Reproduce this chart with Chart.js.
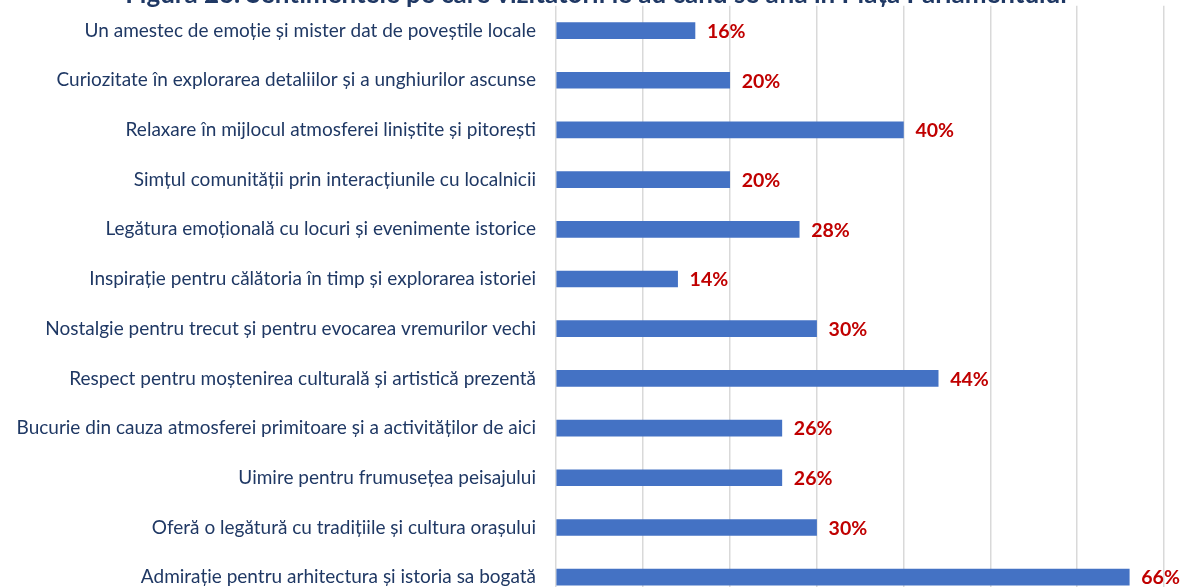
<!DOCTYPE html>
<html>
<head>
<meta charset="utf-8">
<script src="https://cdn.jsdelivr.net/npm/chart.js"></script>
<style>
  html, body { margin: 0; padding: 0; overflow: hidden; background: #fff; }
  #chartDiv { position: absolute; left: 0; top: -20px; width: 1182px; height: 623px; }
</style>
</head>
<body>
<div id="chartDiv"><canvas id="myChart" width="1182" height="622"></canvas></div>
<script>
let titleText = "Figura 26. Sentimentele pe care vizitatorii le au când se află în Piața Parlamentului";

let categories = [
    "Un amestec de emoție și mister dat de poveștile locale",
    "Curiozitate în explorarea detaliilor și a unghiurilor ascunse",
    "Relaxare în mijlocul atmosferei liniștite și pitorești",
    "Simțul comunității prin interacțiunile cu localnicii",
    "Legătura emoțională cu locuri și evenimente istorice",
    "Inspirație pentru călătoria în timp și explorarea istoriei",
    "Nostalgie pentru trecut și pentru evocarea vremurilor vechi",
    "Respect pentru moștenirea culturală și artistică prezentă",
    "Bucurie din cauza atmosferei primitoare și a activităților de aici",
    "Uimire pentru frumusețea peisajului",
    "Oferă o legătură cu tradițiile și cultura orașului",
    "Admirație pentru arhitectura și istoria sa bogată"
];
let values = [16, 20, 40, 20, 28, 14, 30, 44, 26, 26, 30, 66];

let axisMax = 70;
let axisStep = 10;

// etichete rosii cu procentul, la capatul fiecarei bare
const valueLabels = {
    id: 'valueLabels',
    afterDatasetsDraw(chart) {
        let ctx = chart.ctx;
        let meta = chart.getDatasetMeta(0);
        ctx.save();
        ctx.font = 'bold 19.5px Lato';
        ctx.fillStyle = '#c00000';
        ctx.textAlign = 'left';
        ctx.textBaseline = 'middle';
        meta.data.forEach(function (bar, i) {
            ctx.fillText(values[i] + '%', bar.x + 12, bar.y + 1);
        });
        ctx.restore();
    }
};

let myChart = document.getElementById("myChart").getContext('2d');

let barChart = new Chart(myChart, {
    type: 'bar',
    data: {
        labels: categories,
        datasets: [{
            data: values,
            backgroundColor: '#4472c4',
            barThickness: 16
        }]
    },
    plugins: [valueLabels],
    options: {
        indexAxis: 'y',
        responsive: false,
        animation: false,
        layout: {
            padding: { left: 10, right: 0, top: 0, bottom: 0 }
        },
        plugins: {
            legend: { display: false },
            tooltip: { enabled: false },
            title: {
                display: true,
                text: titleText,
                color: '#1f3864',
                font: { family: 'Lato', size: 26, weight: 'bold', lineHeight: 0.5 },
                padding: { top: 8, bottom: 4.7 }
            }
        },
        scales: {
            x: {
                min: 0,
                max: axisMax,
                afterFit: function (scale) {
                    scale.height = 0;
                    scale.paddingRight = 18;
                },
                ticks: { display: false, stepSize: axisStep },
                grid: { color: '#d9d9d9', lineWidth: 1.5, drawTicks: false },
                border: { display: false }
            },
            y: {
                afterFit: function (scale) {
                    scale.width = 546;
                    scale.paddingTop = 0;
                    scale.paddingBottom = 0;
                },
                ticks: {
                    color: '#1f3864',
                    padding: 20,
                    font: { family: 'Lato', size: 19 }
                },
                grid: { display: false, drawTicks: false },
                border: { display: false }
            }
        }
    }
});
</script>
</body>
</html>
